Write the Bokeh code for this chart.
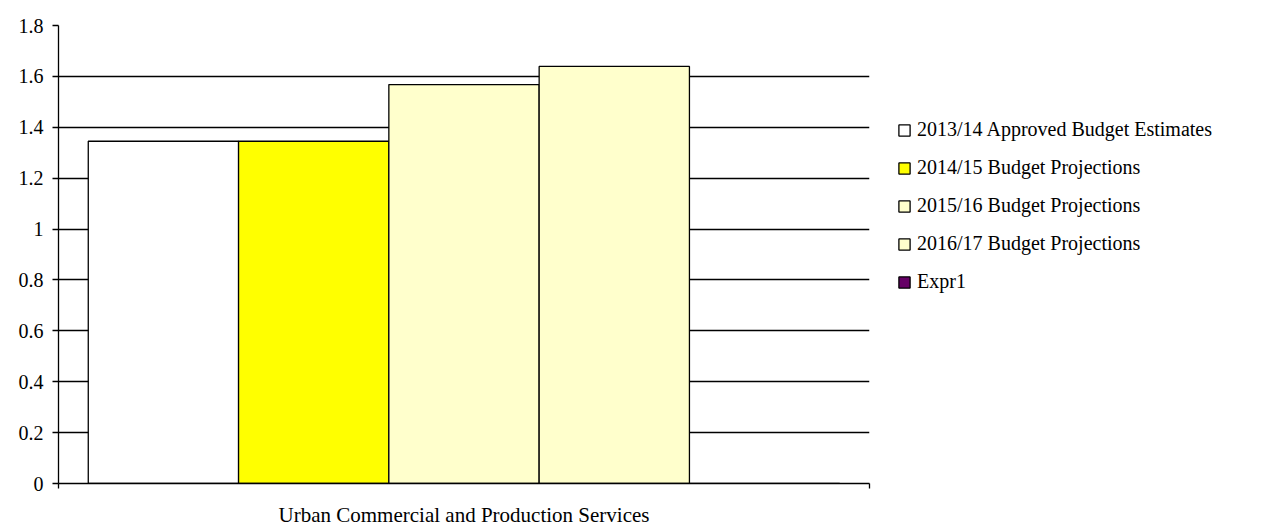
from bokeh.plotting import figure
from bokeh.models import ColumnDataSource, Range1d, FixedTicker, Legend, LegendItem
from bokeh.embed import file_html
from bokeh.resources import INLINE

categories = ["Urban Commercial and Production Services"]
series_names = [
    "2013/14 Approved Budget Estimates",
    "2014/15 Budget Projections",
    "2015/16 Budget Projections",
    "2016/17 Budget Projections",
    "Expr1",
]
series_values = [
    [1.345],
    [1.345],
    [1.568],
    [1.639],
    [0.0],
]
series_colors = ["#FFFFFF", "#FFFF00", "#FFFFCC", "#FFFFCC", "#660066"]
y_ticks = [0, 0.2, 0.4, 0.6, 0.8, 1, 1.2, 1.4, 1.6, 1.8]
y_tick_labels = ["0", "0.2", "0.4", "0.6", "0.8", "1", "1.2", "1.4", "1.6", "1.8"]

FONT = "Liberation Serif"
FS = "20px"

p = figure(
    frame_width=811, frame_height=458,
    x_range=Range1d(0, len(categories)),
    y_range=Range1d(0, 1.8),
    output_backend="svg", toolbar_location=None,
    min_border_left=58, min_border_right=60,
    min_border_top=25, min_border_bottom=42,
)
p.outline_line_color = None
p.background_fill_color = "white"
p.border_fill_color = "white"

n = len(series_names)
gap = 0.0367
bw = (1 - 2 * gap) / n
items = []
for j, (name, vals, col) in enumerate(zip(series_names, series_values, series_colors)):
    xs = [i + 0.5 + (j - (n - 1) / 2) * bw for i in range(len(categories))]
    src = ColumnDataSource(dict(x=xs, top=vals))
    r = p.vbar(x="x", top="top", width=bw, bottom=0, source=src,
               fill_color=col, line_color="black", line_width=1.3)
    items.append(LegendItem(label=name, renderers=[r]))

# y axis
p.yaxis.ticker = FixedTicker(ticks=y_ticks)
p.yaxis.major_label_overrides = {t: l for t, l in zip(y_ticks, y_tick_labels)}
p.yaxis.major_tick_out = 6
p.yaxis.major_tick_in = 0
p.yaxis.minor_tick_line_color = None
p.yaxis.axis_line_color = "black"
p.yaxis.axis_line_width = 1.3
p.yaxis.major_tick_line_width = 1.3
p.yaxis.major_label_text_font = FONT
p.yaxis.major_label_text_font_size = FS
p.yaxis.major_label_text_color = "black"
p.yaxis.major_label_standoff = 9

# x axis
centers = [i + 0.5 for i in range(len(categories))]
edges = [float(i) for i in range(len(categories) + 1)]
p.xaxis.ticker = FixedTicker(ticks=centers, minor_ticks=edges)
p.xaxis.major_label_overrides = {c: name for c, name in zip(centers, categories)}
p.xaxis.major_tick_line_color = None
p.xaxis.minor_tick_line_color = "black"
p.xaxis.minor_tick_out = 5
p.xaxis.minor_tick_in = 0
p.xaxis.minor_tick_line_width = 1.3
p.xaxis.axis_line_color = "black"
p.xaxis.axis_line_width = 1.3
p.xaxis.major_label_text_font = FONT
p.xaxis.major_label_text_font_size = "21px"
p.xaxis.major_label_text_color = "black"
p.xaxis.major_label_standoff = 13

# grid
p.xgrid.grid_line_color = None
p.ygrid.ticker = FixedTicker(ticks=y_ticks)
p.ygrid.grid_line_color = "black"
p.ygrid.grid_line_width = 1.3

# legend
lg = Legend(items=items, location=(28, 190))
lg.border_line_color = None
lg.background_fill_alpha = 0
lg.padding = 0
lg.margin = 0
lg.glyph_width = 14
lg.glyph_height = 14
lg.label_standoff = 6
lg.label_height = 20
lg.spacing = 15
lg.label_text_font = FONT
lg.label_text_font_size = FS
lg.label_text_color = "black"
p.add_layout(lg, "right")

open("out.html", "w").write(file_html(p, INLINE))
